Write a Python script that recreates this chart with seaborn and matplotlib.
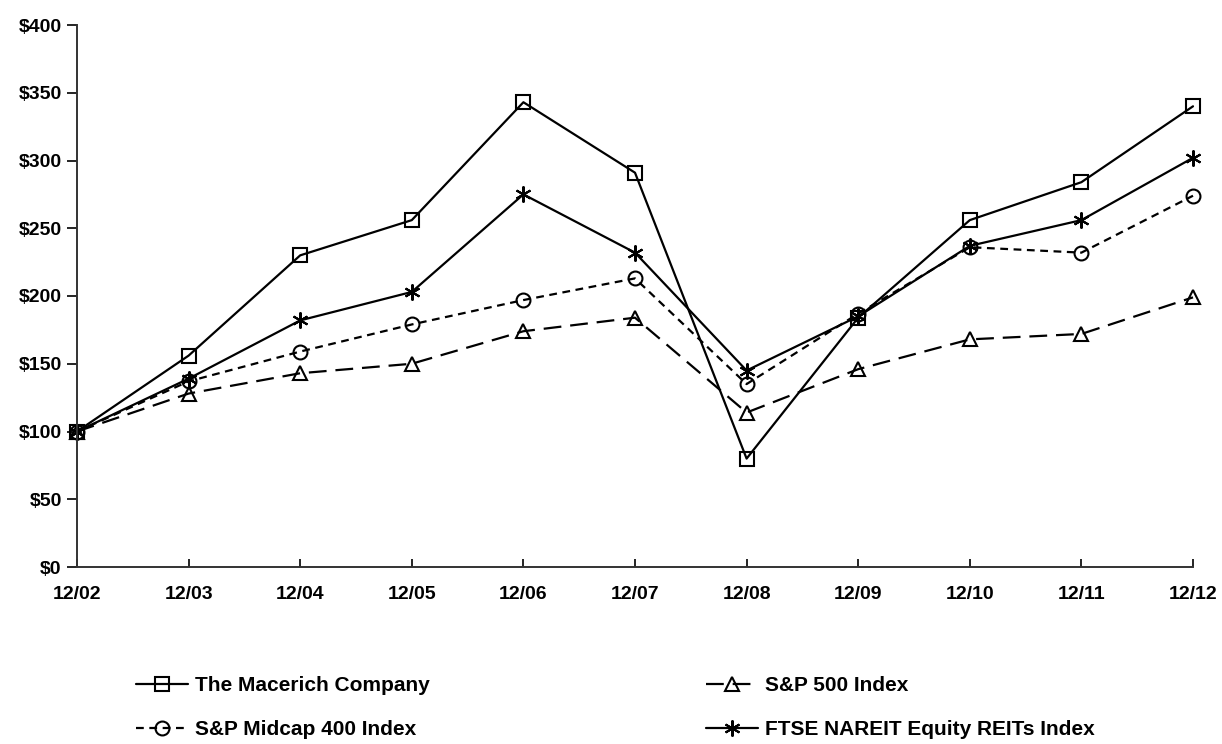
import numpy as np
import pandas as pd
import matplotlib
matplotlib.use("Agg")
import matplotlib.pyplot as plt
import seaborn as sns

# data
periods = ["12/02", "12/03", "12/04", "12/05", "12/06", "12/07",
           "12/08", "12/09", "12/10", "12/11", "12/12"]
macerich = [100, 156, 230, 256, 343, 291, 80, 184, 256, 284, 340]
sp500 = [100, 128, 143, 150, 174, 184, 114, 146, 168, 172, 199]
midcap400 = [100, 137, 159, 179, 197, 213, 135, 187, 236, 232, 274]
nareit = [100, 139, 182, 203, 275, 232, 145, 185, 237, 256, 302]

series_names = ["The Macerich Company", "S&P 500 Index",
                "S&P Midcap 400 Index", "FTSE NAREIT Equity REITs Index"]

df = pd.DataFrame({
    "period": periods * 4,
    "x": list(range(len(periods))) * 4,
    "value": macerich + sp500 + midcap400 + nareit,
    "series": np.repeat(series_names, len(periods)),
})

sns.set_theme(style="ticks")
plt.rcParams["font.family"] = ["Liberation Sans", "DejaVu Sans"]
plt.rcParams["font.weight"] = "bold"
plt.rcParams["text.color"] = "black"

FS = 14

fig = plt.figure(figsize=(12.22, 7.44), dpi=100)
ax = fig.add_axes([77 / 1222, 1 - 567 / 744, (1193 - 77) / 1222, (567 - 25) / 744])

styles = {
    "The Macerich Company": dict(marker="s", dashes=None, ms=10),
    "S&P 500 Index": dict(marker="^", dashes=(8, 4), ms=10),
    "S&P Midcap 400 Index": dict(marker="o", dashes=(3.5, 2.5), ms=10),
    "FTSE NAREIT Equity REITs Index": dict(marker=(6, 2, 0), dashes=None, ms=11.5),
}

handles = {}
for name in series_names:
    st = styles[name]
    sub = df[df["series"] == name]
    sns.lineplot(data=sub, x="x", y="value", ax=ax, color="black", lw=1.6,
                 marker=st["marker"], markersize=st["ms"], fillstyle="none",
                 markeredgewidth=1.5, markeredgecolor="black", label=name,
                 legend=False)
    line = ax.lines[-1]
    line.set_clip_on(False)
    if st["dashes"] is not None:
        line.set_dashes(st["dashes"])
    handles[name] = line

ax.set_xlim(0, len(periods) - 1)
ax.set_ylim(0, 400)
ax.set_xticks(range(len(periods)))
ax.set_xticklabels(periods)
ax.set_yticks(np.arange(0, 401, 50))
ax.set_yticklabels([f"${v}" for v in range(0, 401, 50)])
ax.set_xlabel("")
ax.set_ylabel("")
ax.tick_params(axis="x", direction="in", length=6, width=1.2, pad=14,
               labelsize=FS, colors="black")
ax.tick_params(axis="y", direction="out", length=7, width=1.2, pad=4,
               labelsize=FS, colors="black")
for lab in ax.get_xticklabels() + ax.get_yticklabels():
    lab.set_fontweight("bold")
for side in ["top", "right"]:
    ax.spines[side].set_visible(False)
for side in ["left", "bottom"]:
    ax.spines[side].set_linewidth(1.4)
    ax.spines[side].set_color("#333333")

# two legend columns placed where the reference has them
columns = [(["The Macerich Company", "S&P Midcap 400 Index"], 136),
           (["S&P 500 Index", "FTSE NAREIT Equity REITs Index"], 706)]
for names, xpx in columns:
    leg = fig.legend([handles[n] for n in names], names, ncol=1,
                     loc="upper left", bbox_to_anchor=(xpx / 1222, 1 - 676 / 744),
                     frameon=False, fontsize=15, handlelength=2.5,
                     handletextpad=0.35, labelspacing=1.2,
                     borderaxespad=0, borderpad=0)
    for t in leg.get_texts():
        t.set_fontweight("bold")
        t.set_color("black")

fig.savefig("out.png", dpi=100)
